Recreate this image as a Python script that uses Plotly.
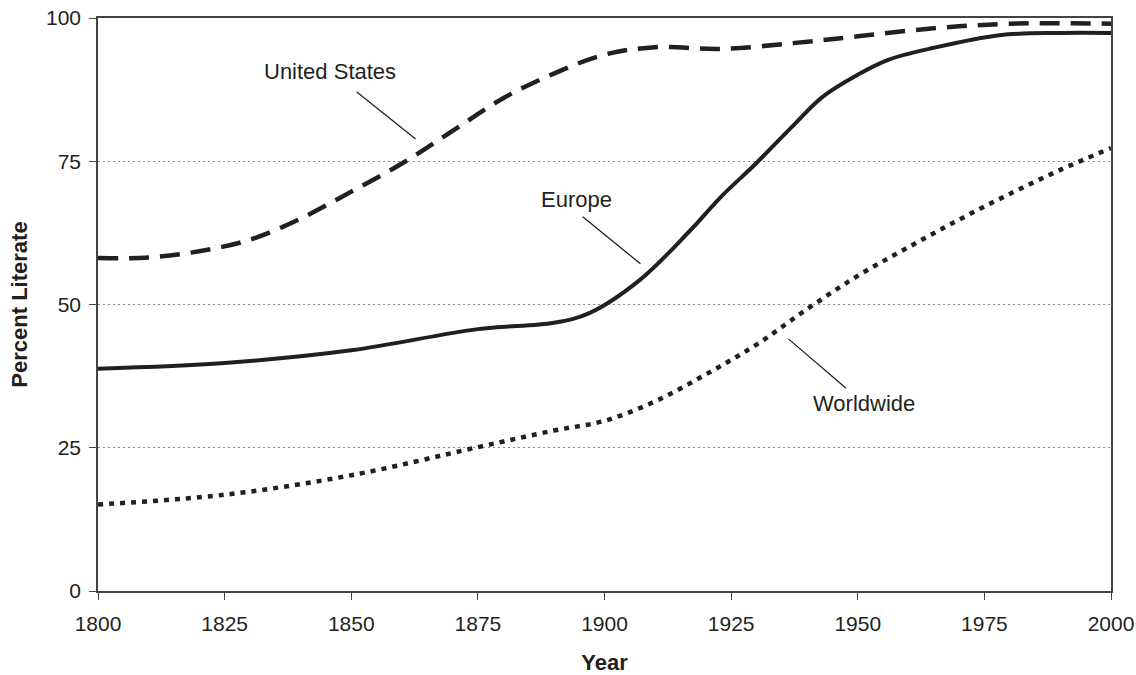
import plotly.graph_objects as go

us_years = [1800, 1810, 1820, 1830, 1840, 1850, 1860, 1870, 1880, 1890, 1900, 1910, 1923, 1937, 1950, 1965, 1980, 2000]
us_vals = [58.1, 58.2, 59.3, 61.3, 65.0, 69.7, 74.6, 80.3, 86.0, 90.3, 93.6, 94.9, 94.6, 95.6, 96.8, 98.2, 99.0, 99.0]

eu_years = [1800, 1825, 1850, 1875, 1890, 1897, 1907, 1917, 1923, 1930, 1937, 1943, 1950, 1956, 1965, 1978, 1990, 2000]
eu_vals = [38.8, 39.8, 42.0, 45.7, 46.8, 48.5, 54.3, 63.0, 68.8, 74.7, 81.0, 86.2, 90.1, 92.7, 94.8, 97.0, 97.4, 97.4]

ww_years = [1800, 1825, 1850, 1875, 1890, 1900, 1910, 1920, 1930, 1940, 1950, 1960, 1970, 1980, 1990, 2000]
ww_vals = [15.1, 16.8, 20.2, 25.1, 28.0, 29.7, 33.1, 37.8, 43.0, 49.2, 55.0, 60.0, 64.8, 69.3, 73.5, 77.3]

x_ticks = [1800, 1825, 1850, 1875, 1900, 1925, 1950, 1975, 2000]
y_ticks = [0, 25, 50, 75, 100]

labels = ["United States", "Europe", "Worldwide"]
label_pos = [(1845.8, 90.6), (1894.5, 68.4), (1951.3, 32.8)]
leader_lines = [((1851.1, 87.1), (1862.7, 78.9)),
                ((1895.7, 65.3), (1907.1, 57.1)),
                ((1936.3, 44.0), (1947.7, 35.4))]

FONT = "Liberation Sans, Arial, sans-serif"
INK = "#231f20"

fig = go.Figure()
fig.add_trace(go.Scatter(x=us_years, y=us_vals, mode="lines", name="United States",
                         line=dict(color=INK, width=4.5, dash="20px,11px", shape="spline", smoothing=1.0)))
fig.add_trace(go.Scatter(x=eu_years, y=eu_vals, mode="lines", name="Europe",
                         line=dict(color=INK, width=4, shape="spline", smoothing=1.0)))
fig.add_trace(go.Scatter(x=ww_years, y=ww_vals, mode="lines", name="Worldwide",
                         line=dict(color=INK, width=4.5, dash="5px,6px", shape="spline", smoothing=1.0)))

for (x0, y0), (x1, y1) in leader_lines:
    fig.add_shape(type="line", x0=x0, y0=y0, x1=x1, y1=y1, xref="x", yref="y",
                  line=dict(color=INK, width=1.3))
for txt, (x, y) in zip(labels, label_pos):
    fig.add_annotation(x=x, y=y, text=txt, showarrow=False, xref="x", yref="y",
                       font=dict(family=FONT, size=22, color=INK))

axis_common = dict(showline=True, linecolor="#444444", linewidth=1.5, mirror=True,
                   ticks="outside", ticklen=7, tickcolor="#444444", tickwidth=1.2,
                   tickfont=dict(family=FONT, size=21, color=INK),
                   zeroline=False, automargin=False)

fig.update_xaxes(range=[1800, 2000], tickvals=x_ticks, showgrid=False, ticklabelstandoff=6,
                 title=dict(text="<b>Year</b>", font=dict(family=FONT, size=22, color=INK), standoff=21),
                 **axis_common)
fig.update_yaxes(range=[0, 100], tickvals=y_ticks, showgrid=True, gridcolor="#888888", griddash="2px,3px", gridwidth=1,
                 ticklabelstandoff=4,
                 title=dict(text="<b>Percent Literate</b>", font=dict(family=FONT, size=22, color=INK), standoff=12),
                 **axis_common)

fig.update_layout(width=1136, height=675, margin=dict(l=98, r=25, t=18, b=84),
                  plot_bgcolor="white", paper_bgcolor="white", showlegend=False,
                  hovermode=False, font=dict(family=FONT))

fig.write_html("out.html", config={"displayModeBar": False},
               post_script="document.body.style.margin='0';document.body.style.overflow='hidden';")
